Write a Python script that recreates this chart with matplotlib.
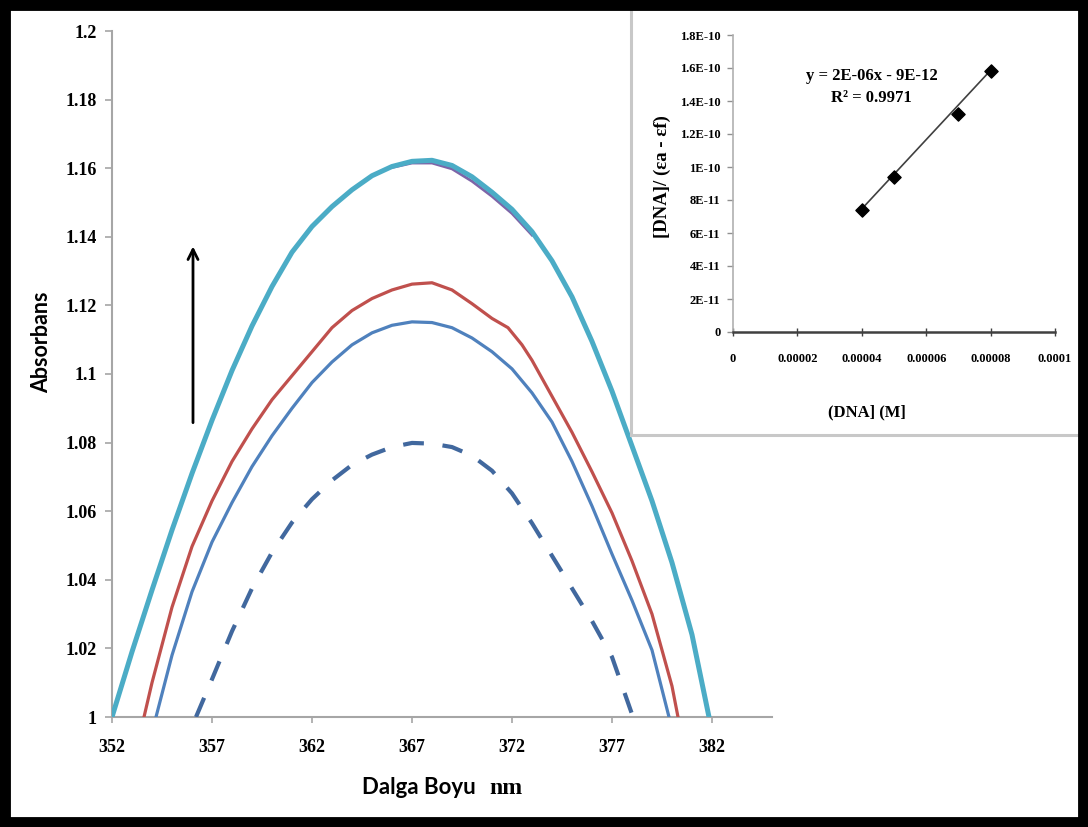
import matplotlib
matplotlib.use("Agg")
import matplotlib.pyplot as plt
from matplotlib.patches import Rectangle

# --- ana spektrum verileri (dalga boyu nm, absorbans) ---
cyan_x = [352, 353, 354, 355, 356, 357, 358, 359, 360, 361, 362, 363, 364, 365, 366, 367,
          368, 369, 370, 371, 372, 373, 374, 375, 376, 377, 378, 379, 380, 381, 381.85]
cyan_y = [1.000, 1.019, 1.037, 1.0545, 1.0710, 1.0865, 1.1010, 1.1140, 1.1255, 1.1355,
          1.1430, 1.1488, 1.1537, 1.1578, 1.1605, 1.1620, 1.1623, 1.1608, 1.1575, 1.1530,
          1.1480, 1.1415, 1.1330, 1.1225, 1.1095, 1.0950, 1.0790, 1.0630, 1.0450, 1.0240,
          1.000]

purple_x = [366, 367, 368, 369, 370, 371, 372, 373]
purple_y = [1.1602, 1.1615, 1.1615, 1.1598, 1.1562, 1.1518, 1.1468, 1.1405]

red_x = [353.6, 354, 355, 356, 357, 358, 359, 360, 361, 362, 363, 364, 365, 366, 367, 368,
         369, 370, 371, 371.8, 372.5, 373, 374, 375, 376, 377, 378, 379, 380, 380.3]
red_y = [1.000, 1.010, 1.032, 1.0497, 1.0630, 1.0745, 1.0840, 1.0925, 1.0995, 1.1065,
         1.1135, 1.1185, 1.1220, 1.1245, 1.1262, 1.1266, 1.1245, 1.1205, 1.1162, 1.1135,
         1.1085, 1.1040, 1.0935, 1.0830, 1.0715, 1.0595, 1.0455, 1.0300, 1.0090, 1.000]

blue_x = [354.2, 355, 356, 357, 358, 359, 360, 361, 362, 363, 364, 365, 366, 367, 368,
          369, 370, 371, 372, 373, 374, 375, 376, 377, 378, 379, 379.85]
blue_y = [1.000, 1.018, 1.0365, 1.0510, 1.0625, 1.0730, 1.0820, 1.0900, 1.0975, 1.1035,
          1.1085, 1.1120, 1.1142, 1.1152, 1.1150, 1.1135, 1.1105, 1.1065, 1.1015, 1.0945,
          1.0860, 1.0745, 1.0615, 1.0475, 1.0340, 1.0195, 1.000]

dash_x = [356.2, 357, 358, 359, 360, 361, 362, 363, 364, 365, 366, 367, 368, 369, 370,
          371, 372, 373, 374, 375, 376, 377, 378.05]
dash_y = [1.000, 1.0110, 1.0250, 1.0375, 1.0480, 1.0567, 1.0635, 1.0690, 1.0735, 1.0765,
          1.0787, 1.0799, 1.0797, 1.0787, 1.0762, 1.0718, 1.0652, 1.0565, 1.0470, 1.0375,
          1.0280, 1.0175, 1.000]

x_ticks = [352, 357, 362, 367, 372, 377, 382]
y_ticks = [1.0, 1.02, 1.04, 1.06, 1.08, 1.1, 1.12, 1.14, 1.16, 1.18, 1.2]
y_tick_labels = ["1", "1.02", "1.04", "1.06", "1.08", "1.1", "1.12", "1.14", "1.16",
                 "1.18", "1.2"]

# --- ek grafik: [DNA] / (ea - ef) ---
dna_conc = [0.00004, 0.00005, 0.00007, 0.00008]
dna_ratio = [7.4e-11, 9.4e-11, 1.32e-10, 1.58e-10]
fit_slope = 2.1e-06
fit_icept = -9.4e-12
inset_x_ticks = [0, 0.00002, 0.00004, 0.00006, 0.00008, 0.0001]
inset_x_labels = ["0", "0.00002", "0.00004", "0.00006", "0.00008", "0.0001"]
inset_y_ticks = [0, 2e-11, 4e-11, 6e-11, 8e-11, 1e-10, 1.2e-10, 1.4e-10, 1.6e-10, 1.8e-10]
inset_y_labels = ["0", "2E-11", "4E-11", "6E-11", "8E-11", "1E-10", "1.2E-10", "1.4E-10",
                  "1.6E-10", "1.8E-10"]

SERIF = ["Liberation Serif", "DejaVu Serif"]
SANS = ["Lato", "DejaVu Sans"]
W, H = 1088, 827

fig = plt.figure(figsize=(W / 100, H / 100), dpi=100)
fig.patch.set_facecolor("white")

# ana eksen
ax = fig.add_axes([112 / W, 1 - 717 / H, (772 - 112) / W, (717 - 31) / H])
ax.plot(cyan_x, cyan_y, color="#4BACC6", lw=3.6, zorder=3, solid_joinstyle="round")
ax.plot(purple_x, purple_y, color="#7E65A8", lw=2.0, zorder=2)
ax.plot(red_x, red_y, color="#C0504D", lw=2.3, zorder=3, solid_joinstyle="round")
ax.plot(blue_x, blue_y, color="#4F81BD", lw=2.3, zorder=3, solid_joinstyle="round")
ax.plot(dash_x, dash_y, color="#41689E", lw=3.0, ls=(0, (5, 4.5)), zorder=3)

ax.annotate("", xy=(356.05, 1.1380), xytext=(356.05, 1.0850),
            arrowprops=dict(arrowstyle="->", color="black", lw=2.0, mutation_scale=18))

ax.set_xlim(352, 385)
ax.set_ylim(1.0, 1.2)
ax.set_xticks(x_ticks)
ax.set_xticklabels([str(t) for t in x_ticks])
ax.set_yticks(y_ticks)
ax.set_yticklabels(y_tick_labels)
for s in ["top", "right"]:
    ax.spines[s].set_visible(False)
for s in ["left", "bottom"]:
    ax.spines[s].set_color("#A6A6A6")
    ax.spines[s].set_linewidth(1.5)
ax.tick_params(axis="y", direction="out", length=5, width=1.2, color="#A6A6A6", pad=6)
ax.tick_params(axis="x", direction="out", length=4, width=1.2, color="#A6A6A6", pad=12)
for lab in ax.get_xticklabels() + ax.get_yticklabels():
    lab.set_family(SERIF)
    lab.set_fontweight("bold")
    lab.set_fontsize(13)

fig.text(42 / W, 1 - 342 / H, "Absorbans", rotation=90, ha="center", va="center",
         family=SANS, fontweight="bold", fontsize=15.5)
fig.text(476 / W, 1 - 787 / H, "Dalga Boyu", ha="right", va="center",
         family=SANS, fontweight="bold", fontsize=16)
fig.text(489 / W, 1 - 789 / H, "nm", ha="left", va="center",
         family=SERIF, fontweight="bold", fontsize=17)

# ek grafik çerçevesi
fig.patches.append(Rectangle((631 / W, 1 - 435 / H), (1085 - 631) / W, 430 / H,
                             transform=fig.transFigure, facecolor="white",
                             edgecolor="#C8C8C8", lw=2.2, zorder=1))

ins = fig.add_axes([733 / W, 1 - 332 / H, (1055 - 733) / W, (332 - 35) / H], zorder=2)
ins.set_facecolor("none")
fx = [dna_conc[0], dna_conc[-1]]
ins.plot(fx, [fit_slope * v + fit_icept for v in fx], color="#404040", lw=1.2, zorder=2)
ins.scatter(dna_conc, dna_ratio, marker="D", s=45, color="black", zorder=3)
ins.set_xlim(0, 0.0001)
ins.set_ylim(0, 1.8e-10)
ins.set_xticks(inset_x_ticks)
ins.set_xticklabels(inset_x_labels)
ins.set_yticks(inset_y_ticks)
ins.set_yticklabels(inset_y_labels)
for s in ["top", "right"]:
    ins.spines[s].set_visible(False)
ins.spines["left"].set_color("#B0B0B0")
ins.spines["left"].set_linewidth(1.2)
ins.spines["bottom"].set_color("#404040")
ins.spines["bottom"].set_linewidth(1.8)
ins.tick_params(axis="y", direction="out", length=4, width=1, color="#909090", pad=5)
ins.tick_params(axis="x", direction="inout", length=6, width=1, color="#404040", pad=12)
for lab in ins.get_xticklabels() + ins.get_yticklabels():
    lab.set_family(SERIF)
    lab.set_fontweight("bold")
    lab.set_fontsize(9)

ins.text(0.000043, 1.485e-10, "y = 2E-06x - 9E-12\nR² = 0.9971", ha="center", va="center",
         family=SERIF, fontweight="bold", fontsize=12, linespacing=1.45)
fig.text(662 / W, 1 - 177 / H, "[DNA]/ (εa - εf)", rotation=90, ha="center", va="center",
         family=SERIF, fontweight="bold", fontsize=13.5)
fig.text(867 / W, 1 - 412 / H, "(DNA] (M]", ha="center", va="center",
         family=SERIF, fontweight="bold", fontsize=12)

# dış siyah çerçeve
fig.patches.append(Rectangle((0, 0), 1, 1, transform=fig.transFigure, fill=False,
                             edgecolor="black", lw=15, zorder=10))

fig.savefig("out.png", dpi=100)
